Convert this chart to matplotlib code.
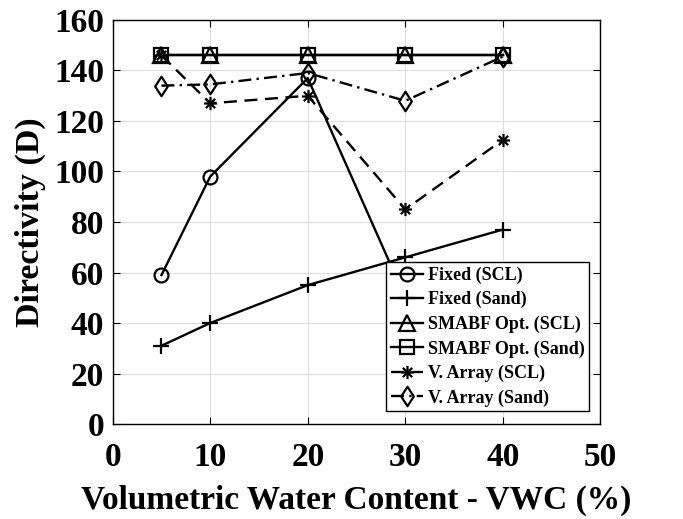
import matplotlib
matplotlib.use("Agg")
import matplotlib.pyplot as plt
from matplotlib.path import Path

vwc = [5, 10, 20, 30, 40]
fixed_scl = [59, 98, 137, 50, 45]
fixed_sand = [31, 40, 55, 66, 77]
smabf_scl = [146, 146, 146, 146, 146]
smabf_sand = [146, 146, 146, 146, 146]
varray_scl = [146, 127, 130, 85, 112.5]
varray_sand = [134, 134.5, 139, 128, 145.5]

labels = ["Fixed (SCL)", "Fixed (Sand)", "SMABF Opt. (SCL)",
          "SMABF Opt. (Sand)", "V. Array (SCL)", "V. Array (Sand)"]

plt.rcParams['font.family'] = ['Liberation Serif', 'DejaVu Serif']
plt.rcParams['font.weight'] = 'bold'

# asterisk marker (+ and x combined) and tall diamond
d = 0.7071
asterisk = Path([(-1, 0), (1, 0), (0, -1), (0, 1), (-d, -d), (d, d), (-d, d), (d, -d)],
                [Path.MOVETO, Path.LINETO] * 4)
diamond = Path([(0, 1), (0.65, 0), (0, -1), (-0.65, 0), (0, 1)],
               [Path.MOVETO, Path.LINETO, Path.LINETO, Path.LINETO, Path.CLOSEPOLY])

fig = plt.figure(figsize=(6.83, 5.19), dpi=100)
ax = fig.add_axes([0.165, 0.183, 0.714, 0.7785])

lw = 1.7
mew = 1.6
common = dict(color='black', lw=lw, mew=mew, mfc='none', mec='black')
ax.plot(vwc, fixed_scl, marker='o', ms=10, ls='-', label=labels[0], **common)
ax.plot(vwc, fixed_sand, marker='+', ms=12, ls='-', label=labels[1], **common)
ax.plot(vwc, smabf_scl, marker='^', ms=11, ls='-', label=labels[2], **common)
ax.plot(vwc, smabf_sand, marker='s', ms=9.5, ls='-', label=labels[3], **common)
ax.plot(vwc, varray_scl, marker=asterisk, ms=9.5, ls=(0, (5.5, 3.2)), label=labels[4], **common)
ax.plot(vwc, varray_sand, marker=diamond, ms=14, ls=(0, (5.5, 2.2, 1, 2.2)), label=labels[5], **common)

ax.set_xlim(0, 50)
ax.set_ylim(0, 160)
ax.set_xticks(range(0, 51, 10))
ax.set_yticks(range(0, 161, 20))
ax.grid(True, color='#dddddd', lw=0.8)
ax.set_axisbelow(True)
ax.tick_params(direction='in', top=True, right=True, labelsize=24, length=5, width=0.8)
ax.tick_params(axis='x', pad=13)
ax.tick_params(axis='y', pad=6)
for lab in ax.get_xticklabels() + ax.get_yticklabels():
    lab.set_fontweight('bold')
for s in ax.spines.values():
    s.set_linewidth(1.0)

ax.set_xlabel("Volumetric Water Content - VWC (%)", fontsize=24, fontweight='bold')
ax.set_ylabel("Directivity (D)", fontsize=24.5, fontweight='bold', labelpad=6)
ax.xaxis.set_label_coords(0.5, -0.15)

leg = ax.legend(loc='lower right', bbox_to_anchor=(0.977, 0.032),
                prop={'weight': 'bold', 'size': 13}, frameon=True, fancybox=False,
                edgecolor='black', framealpha=1, handlelength=1.8, handletextpad=0.25,
                borderpad=0.25, labelspacing=0.4, borderaxespad=0)
leg.get_frame().set_linewidth(1.0)
leg.set_zorder(10)

fig.savefig("out.png", dpi=100)
